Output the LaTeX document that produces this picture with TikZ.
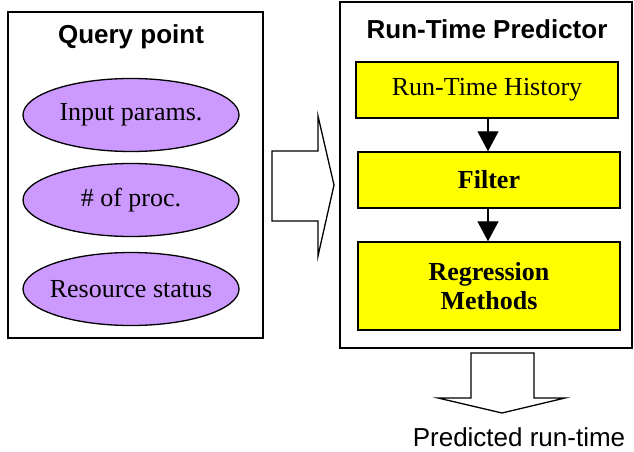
\documentclass[tikz,border=0pt]{standalone}
\usepackage{fontspec}
\setmainfont{Liberation Serif}
\newfontfamily\arialf{Liberation Sans}
\usetikzlibrary{shapes.geometric,arrows.meta}
\definecolor{lav}{HTML}{CC99FF}
\definecolor{yel}{HTML}{FFFF00}
\tikzset{
  frame/.style={draw=black,line width=1.5pt,fill=white},
  oval/.style={ellipse,draw=black,line width=1.3pt,fill=lav,minimum width=216pt,minimum height=73pt,inner xsep=-30pt,inner ysep=0pt,font=\fontsize{26}{30}\selectfont},
  ybox/.style={draw=black,line width=1.5pt,fill=yel,minimum width=262pt,inner sep=0pt,font=\fontsize{26}{30}\selectfont,align=center},
  ttl/.style={font=\arialf\bfseries\fontsize{26}{30}\selectfont},
  flow/.style={line width=1.3pt,-{Triangle[width=21pt,length=20pt]}},
  hollow/.style={draw=black,line width=1.3pt,fill=white,line join=miter}
}
\begin{document}
\begin{tikzpicture}[x=1pt,y=-1pt]
\useasboundingbox (0,0) rectangle (634,452);
% left frame
\draw[frame] (8,12) rectangle (263,338);
\node[ttl] (qt) at (131,37) {Query point};
\node[oval] (e1) at (131,115) {Input params.};
\node[oval] (e2) at (131,200) {\# of proc.};
\node[oval] (e3) at (131,289) {Resource status};
% big right arrow
\draw[hollow] (272,151) -- (318,151) -- (318,116) -- (334,185) -- (318,256) -- (318,221) -- (272,221) -- cycle;
% right frame
\draw[frame] (340,2) rectangle (632,348);
\node[ttl] (rt) at (487,29) {Run-Time Predictor};
\node[ybox,minimum height=56pt] (b1) at (487,90) {Run-Time History};
\node[ybox,minimum height=56pt] (b2) at (489,180) {\bfseries Filter};
\node[ybox,minimum height=88pt] (b3) at (489,286) {\bfseries Regression\\[-1pt]\bfseries Methods};
\draw[flow] (b1.south -| 488,0) -- (b2.north -| 488,0);
\draw[flow] (b2.south -| 488,0) -- (b3.north -| 488,0);
% down arrow
\draw[hollow] (471,353) -- (534,353) -- (534,398) -- (565,398) -- (502,413) -- (438,398) -- (471,398) -- cycle;
\node[font=\arialf\fontsize{26}{30}\selectfont] (out) at (519,437) {Predicted run-time};
\end{tikzpicture}
\end{document}
